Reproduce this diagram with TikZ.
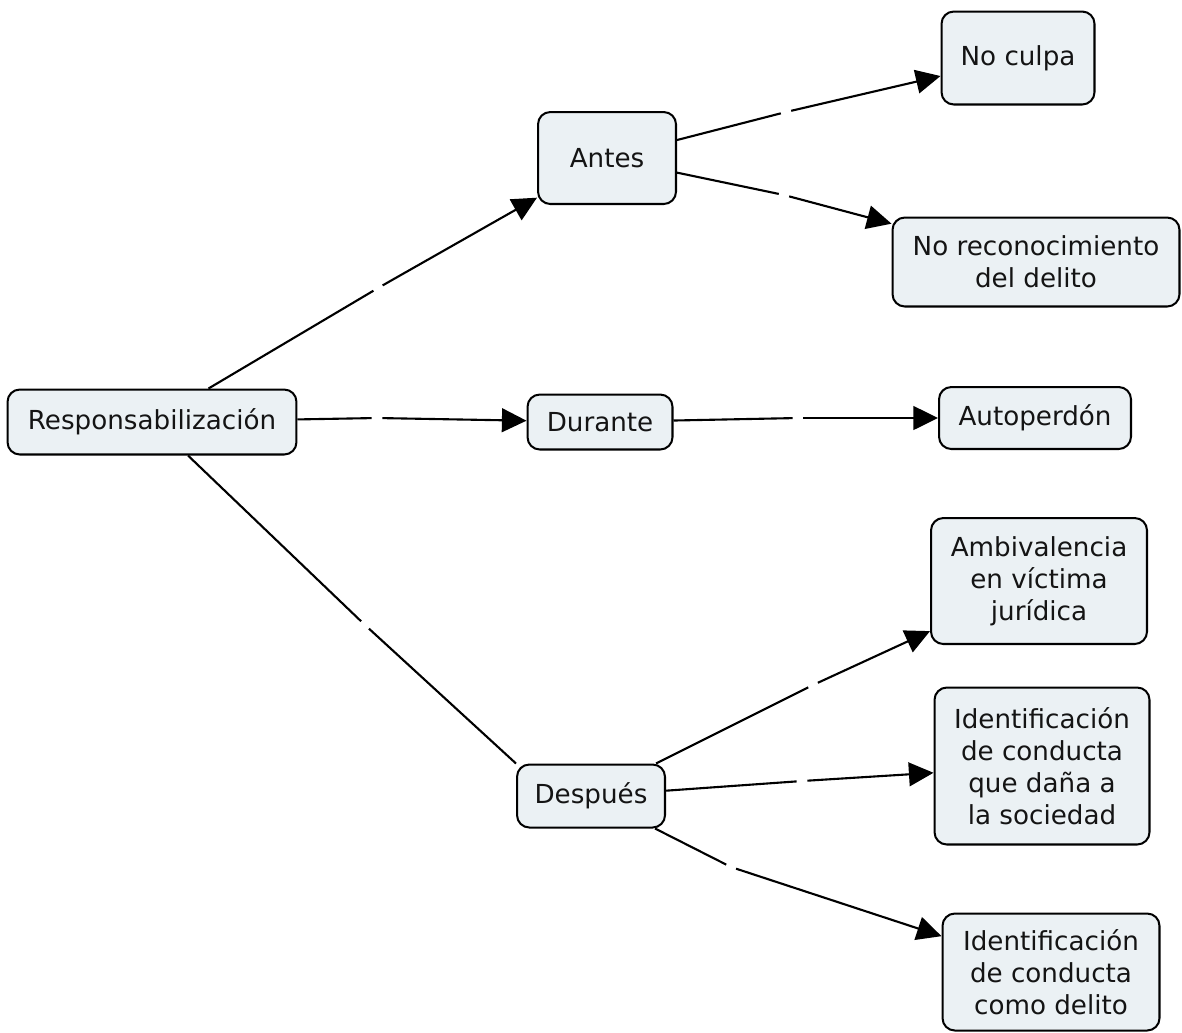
\documentclass[tikz,border=0pt]{standalone}
\usepackage{fontspec}
\setmainfont{DejaVu Sans}
\usetikzlibrary{arrows.meta, positioning}
\definecolor{conceptFill}{HTML}{EBF1F4}
\definecolor{textdark}{HTML}{141414}

\begin{document}
\begin{tikzpicture}[
    x=0.02cm, y=-0.02cm,
    font=\fontsize{14.9}{18.1}\selectfont,
    >={Triangle[length=14pt, width=13.5pt]},
    concept/.style={draw=black, line width=1.15pt, fill=conceptFill, rounded corners=7pt,
                    text=textdark, align=center, inner sep=2pt},
    link/.style={circle, inner sep=0pt, minimum size=0.2cm},
    conn/.style={line width=1.2pt, black}
]
\useasboundingbox (0,0) rectangle (1182,1032);

% --- concepts ---
\node[concept, minimum width=5.78cm, minimum height=1.30cm] (resp) at (152,422) {Responsabilización};
\node[concept, minimum width=2.76cm, minimum height=1.84cm] (antes) at (607,158) {Antes};
\node[concept, minimum width=2.90cm, minimum height=1.10cm] (durante) at (600,422) {Durante};
\node[concept, minimum width=2.96cm, minimum height=1.26cm] (despues) at (591,796) {Después};

\node[concept, minimum width=3.06cm, minimum height=1.86cm] (noculpa) at (1018,58) {No culpa};
\node[concept, minimum width=5.74cm, minimum height=1.78cm] (noreco) at (1036,262) {No reconocimiento\\del delito};
\node[concept, minimum width=3.84cm, minimum height=1.24cm] (autoperdon) at (1035,418) {Autoperdón};
\node[concept, minimum width=4.32cm, minimum height=2.52cm] (ambiv) at (1039,581) {Ambivalencia\\en víctima\\jurídica};
\node[concept, minimum width=4.30cm, minimum height=3.14cm] (identdano) at (1042,766) {Identificación\\de conducta\\que daña a\\la sociedad};
\node[concept, minimum width=4.34cm, minimum height=2.34cm] (identdelito) at (1051,972) {Identificación\\de conducta\\como delito};

% --- empty linking phrases ---
\node[link] (lAntes) at (378,288) {};
\node[link] (lDurante) at (377,418) {};
\node[link] (lDespues) at (365,625) {};
\node[link] (lNoculpa) at (786,112) {};
\node[link] (lNoreco) at (784,195) {};
\node[link] (lAutoperdon) at (798,418) {};
\node[link] (lAmbiv) at (813,685) {};
\node[link] (lIdentdano) at (802,781) {};
\node[link] (lIdentdelito) at (731,867) {};

% --- connectors ---
\draw[conn] (resp) -- (lAntes);
\draw[conn, ->] (lAntes) -- (antes);
\draw[conn] (resp) -- (lDurante);
\draw[conn, ->] (lDurante) -- (durante);
\draw[conn] (resp.south) ++(36,0) coordinate (respOut) (respOut) -- (lDespues);
\draw[conn] (lDespues) -- (despues.north west);

\draw[conn] (antes) -- (lNoculpa);
\draw[conn, ->] (lNoculpa) -- (noculpa);
\draw[conn] (antes) -- (lNoreco);
\draw[conn, ->] (lNoreco) -- (noreco);

\draw[conn] (durante) -- (lAutoperdon);
\draw[conn, ->] (lAutoperdon) -- (autoperdon);

\draw[conn] (despues) -- (lAmbiv);
\draw[conn, ->] (lAmbiv) -- (ambiv);
\draw[conn] (despues) -- (lIdentdano);
\draw[conn, ->] (lIdentdano) -- (identdano);
\draw[conn] (despues) -- (lIdentdelito);
\draw[conn, ->] (lIdentdelito) -- (identdelito);

\end{tikzpicture}
\end{document}
